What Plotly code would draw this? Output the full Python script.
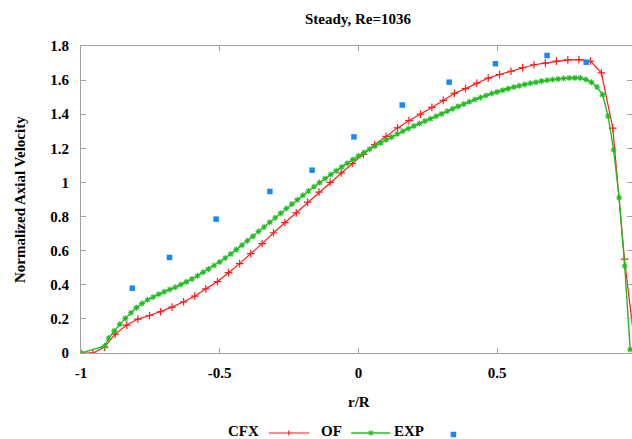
import plotly.graph_objects as go

# ---------------- data ----------------
cfx_x = [-1.000, -0.957, -0.915, -0.877, -0.835, -0.795, -0.753, -0.713, -0.672, -0.630,
         -0.590, -0.550, -0.508, -0.468, -0.428, -0.388, -0.347, -0.306, -0.265, -0.224,
         -0.183, -0.142, -0.102, -0.062, -0.022, 0.018, 0.059, 0.100, 0.141, 0.182,
         0.224, 0.265, 0.306, 0.346, 0.386, 0.427, 0.468, 0.509, 0.550, 0.592,
         0.633, 0.674, 0.714, 0.755, 0.795, 0.836, 0.876, 0.917, 0.959, 1.000]
cfx_y = [0.000, 0.000, 0.035, 0.111, 0.164, 0.199, 0.220, 0.242, 0.269, 0.300,
         0.333, 0.376, 0.419, 0.471, 0.524, 0.583, 0.641, 0.705, 0.764, 0.822,
         0.885, 0.943, 1.000, 1.056, 1.111, 1.165, 1.222, 1.270, 1.320, 1.362,
         1.400, 1.440, 1.481, 1.522, 1.550, 1.582, 1.612, 1.633, 1.652, 1.673,
         1.690, 1.700, 1.711, 1.719, 1.720, 1.711, 1.643, 1.318, 0.550, 0.000]

of_x = [-1.00, -0.915, -0.90, -0.88, -0.86, -0.84, -0.82, -0.80, -0.78, -0.76,
        -0.74, -0.72, -0.70, -0.68, -0.66, -0.64, -0.62, -0.60, -0.58, -0.56,
        -0.54, -0.52, -0.50, -0.48, -0.46, -0.44, -0.42, -0.40, -0.38, -0.36,
        -0.34, -0.32, -0.30, -0.28, -0.26, -0.24, -0.22, -0.20, -0.18, -0.16,
        -0.14, -0.12, -0.10, -0.08, -0.06, -0.04, -0.02, 0.00, 0.02, 0.04,
        0.06, 0.08, 0.10, 0.12, 0.14, 0.16, 0.18, 0.20, 0.22, 0.24,
        0.26, 0.28, 0.30, 0.32, 0.34, 0.36, 0.38, 0.40, 0.42, 0.44,
        0.46, 0.48, 0.50, 0.52, 0.54, 0.56, 0.58, 0.60, 0.62, 0.64,
        0.66, 0.68, 0.70, 0.72, 0.74, 0.76, 0.78, 0.80, 0.82, 0.84,
        0.86, 0.88, 0.90, 0.92, 0.94, 0.96, 0.98]
of_y = [0.000, 0.040, 0.088, 0.130, 0.168, 0.203, 0.236, 0.266, 0.290, 0.312,
        0.328, 0.344, 0.359, 0.372, 0.386, 0.401, 0.417, 0.434, 0.453, 0.473,
        0.493, 0.513, 0.534, 0.557, 0.581, 0.606, 0.632, 0.658, 0.685, 0.712,
        0.739, 0.766, 0.793, 0.820, 0.847, 0.873, 0.899, 0.925, 0.950, 0.975,
        0.999, 1.023, 1.046, 1.069, 1.091, 1.113, 1.134, 1.155, 1.175, 1.195,
        1.214, 1.232, 1.250, 1.267, 1.284, 1.300, 1.316, 1.331, 1.346, 1.360,
        1.374, 1.388, 1.402, 1.417, 1.432, 1.446, 1.460, 1.473, 1.486, 1.498,
        1.510, 1.521, 1.531, 1.541, 1.550, 1.559, 1.567, 1.575, 1.582, 1.588,
        1.594, 1.599, 1.603, 1.607, 1.610, 1.612, 1.613, 1.612, 1.603, 1.588,
        1.560, 1.515, 1.390, 1.190, 0.910, 0.510, 0.020]

exp_x = [-0.815, -0.681, -0.513, -0.319, -0.167, -0.016, 0.158, 0.327, 0.494, 0.680, 0.821]
exp_y = [0.380, 0.560, 0.785, 0.947, 1.072, 1.267, 1.454, 1.588, 1.696, 1.744, 1.705]

x_tickvals = [-1, -0.5, 0, 0.5]
x_ticktext = ["-1", "-0.5", "0", "0.5"]
y_tickvals = [0, 0.2, 0.4, 0.6, 0.8, 1.0, 1.2, 1.4, 1.6, 1.8]
y_ticktext = ["0", "0.2", "0.4", "0.6", "0.8", "1", "1.2", "1.4", "1.6", "1.8"]

series_names = ["CFX", "OF", "EXP"]
title_text = "Steady, Re=1036"
x_title = "r/R"
y_title = "Normalized Axial Velocity"

# ---------------- style ----------------
RED = "#ff1a1a"
GREEN = "#22bb22"
BLUE = "#1a88f0"
FRAME = "#a0a0a0"
FONT = "Liberation Serif"

W, H = 632, 439
L, T, R, B = 81, 46, 0, 86
PW, PH = W - L - R, H - T - B


def px(x):
    return (x - L) / PW


def py(y):
    return (H - B - y) / PH


fig = go.Figure()
fig.add_trace(go.Scatter(x=cfx_x, y=cfx_y, mode="lines+markers", name=series_names[0],
                         line=dict(color=RED, width=1.2),
                         marker=dict(symbol="cross-thin", size=5.5, line=dict(color=RED, width=1.2)),
                         showlegend=False))
fig.add_trace(go.Scatter(x=of_x, y=of_y, mode="lines+markers", name=series_names[1],
                         line=dict(color=GREEN, width=1.4),
                         marker=dict(symbol="asterisk", size=5, line=dict(color=GREEN, width=1.1)),
                         showlegend=False))
fig.add_trace(go.Scatter(x=exp_x, y=exp_y, mode="markers", name=series_names[2],
                         marker=dict(symbol="square", size=5.5, color=BLUE, line=dict(width=0)),
                         showlegend=False))

axis_common = dict(showline=True, linecolor=FRAME, linewidth=1, mirror="ticks",
                   ticks="inside", ticklen=5, tickcolor=FRAME, tickwidth=1,
                   showgrid=False, zeroline=False,
                   tickfont=dict(family=FONT, size=15, color="black", weight="bold"))

fig.update_xaxes(range=[-1, -1 + PW / 277.4], tickmode="array", tickvals=x_tickvals,
                 ticktext=x_ticktext, ticklabelstandoff=6, **axis_common)
fig.update_yaxes(range=[0, 1.8], tickmode="array", tickvals=y_tickvals,
                 ticktext=y_ticktext, ticklabelstandoff=8, **axis_common)

annotations = [
    dict(text=x_title, x=px(358.5), y=py(402), xref="paper", yref="paper",
         showarrow=False, xanchor="center", yanchor="middle",
         font=dict(family=FONT, size=15, color="black", weight="bold")),
    dict(text=y_title, x=px(20), y=py(200), xref="paper", yref="paper",
         showarrow=False, xanchor="center", yanchor="middle", textangle=-90,
         font=dict(family=FONT, size=15, color="black", weight="bold")),
]

# manual key (label followed by sample, as in the original)
key_text_y = 431
key_y = 433
for name, cx in zip(series_names, [243.4, 331.4, 408.6]):
    annotations.append(dict(text=name, x=px(cx), y=py(key_text_y), xref="paper", yref="paper",
                            showarrow=False, xanchor="center", yanchor="middle",
                            font=dict(family=FONT, size=15, color="black", weight="bold")))

shapes = []
# CFX sample
shapes.append(dict(type="line", xref="paper", yref="paper", x0=px(268.8), x1=px(309.3),
                   y0=py(key_y), y1=py(key_y), line=dict(color=RED, width=1.2)))
shapes.append(dict(type="line", xref="paper", yref="paper", x0=px(288.8), x1=px(288.8),
                   y0=py(key_y - 2.5), y1=py(key_y + 2.5), line=dict(color=RED, width=1.2)))
# OF sample
shapes.append(dict(type="line", xref="paper", yref="paper", x0=px(351.2), x1=px(390.3),
                   y0=py(key_y), y1=py(key_y), line=dict(color=GREEN, width=1.4)))
for dx, dy in [(0, 2.5), (2.2, 2.2), (2.2, -2.2)]:
    shapes.append(dict(type="line", xref="paper", yref="paper", x0=px(371 - dx), x1=px(371 + dx),
                       y0=py(key_y - dy), y1=py(key_y + dy), line=dict(color=GREEN, width=1.1)))
# EXP sample
shapes.append(dict(type="rect", xref="paper", yref="paper", x0=px(450.7), x1=px(456.2),
                   y0=py(key_y + 1.5 + 2.75), y1=py(key_y + 1.5 - 2.75),
                   fillcolor=BLUE, line=dict(width=0)))

fig.update_layout(
    width=W, height=H,
    margin=dict(l=L, r=R, t=T, b=B, autoexpand=False),
    paper_bgcolor="white", plot_bgcolor="white",
    title=dict(text=title_text, x=px(358), xref="paper", xanchor="center",
               y=1 - 19 / H, yref="container", yanchor="middle",
               font=dict(family=FONT, size=15, color="black", weight="bold")),
    annotations=annotations, shapes=shapes,
    showlegend=False,
)

fig.write_html("out.html")
